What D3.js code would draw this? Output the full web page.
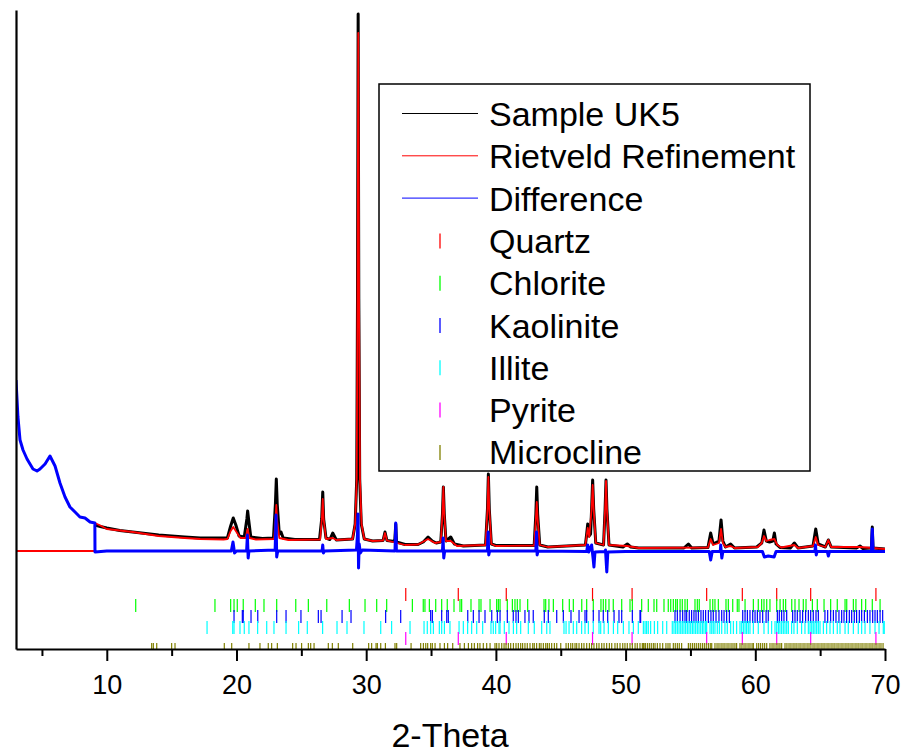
<!DOCTYPE html>
<html>
<head>
<meta charset="utf-8">
<script src="https://cdn.jsdelivr.net/npm/d3@7/dist/d3.min.js"></script>
<style>
    body { margin: 0; background: #fff; }
    svg { font-family: "Liberation Sans", Arial, sans-serif; display: block; }
</style>
</head>
<body>
<div id="chart"></div>
<script>
// measured pattern, [2-theta, counts]
const observed = [
    [9.09,1240],[9.5,1225],[10,1210],[11,1185],[12,1170],[13,1155],[14,1140],[15,1130],[16,1120],[17.2,1110],[18.5,1110],
    [19.3,1110],[19.55,1230],[19.75,1310],[19.95,1240],[20.2,1130],[20.6,1120],[20.8,1300],[20.86,1380],[20.93,1300],[21.1,1120],
    [22,1105],[22.85,1110],[23.0,1450],[23.07,1700],[23.14,1450],[23.3,1150],[23.43,1170],[23.6,1110],[24.5,1095],
    [26.4,1095],[26.57,1300],[26.65,1570],[26.72,1300],[26.9,1110],[27.2,1095],[27.42,1160],[27.7,1090],
    [28.95,1100],[29.15,1250],[29.27,1700],[29.33,3500],[29.38,6350],[29.43,3500],[29.5,1700],[29.62,1250],[29.85,1100],
    [30.5,1080],[31.3,1085],[31.45,1170],[31.6,1085],[32.2,1075],[32.28,1250],[32.34,1070],[33,1045],[34,1045],
    [34.4,1070],[34.77,1120],[35.1,1080],[35.4,1060],[35.75,1070],[35.88,1350],[35.95,1620],[36.02,1350],[36.15,1080],
    [36.52,1120],[36.8,1050],[37.5,1030],[39.2,1040],[39.35,1400],[39.42,1750],[39.49,1400],[39.65,1050],[40,1035],
    [42.95,1035],[43.08,1350],[43.15,1620],[43.22,1350],[43.38,1040],[44,1020],[46.9,1040],[47.0,1150],[47.08,1250],
    [47.18,1130],[47.3,1150],[47.38,1400],[47.46,1690],[47.54,1400],[47.7,1060],[48.3,1040],[48.42,1400],[48.49,1690],
    [48.56,1400],[48.72,1040],[49.8,1020],[50.13,1050],[50.4,1020],[51,1010],[54.5,1010],[54.84,1050],[55.1,1010],
    [56.35,1015],[56.56,1160],[56.75,1050],[57.2,1080],[57.36,1290],[57.5,1080],[57.7,1020],[58.1,1050],[58.4,1010],
    [60.11,1020],[60.5,1060],[60.67,1190],[60.85,1080],[61.1,1070],[61.35,1080],[61.47,1160],[61.6,1050],[61.9,1015],
    [62.7,1010],[63.01,1060],[63.3,1010],[64.45,1030],[64.66,1200],[64.85,1050],[65.4,1020],[65.63,1090],[65.85,1020],
    [67.8,1010],[68.07,1030],[68.3,1005],[68.95,1010],[69.02,1220],[69.08,1010],[70,1000]
];

const refined = [
    [9.09,1260],[9.5,1235],[10,1200],[11,1185],[12,1170],[13,1150],[14,1130],[15,1120],[16,1110],[17.2,1100],[19.0,1095],
    [19.3,1100],[19.55,1180],[19.75,1220],[20.0,1170],[20.3,1110],[20.7,1110],[20.86,1200],[21.0,1110],[21.5,1095],
    [22.9,1100],[23.0,1280],[23.07,1440],[23.14,1280],[23.3,1110],[24,1090],[26.45,1095],[26.58,1300],[26.65,1500],
    [26.72,1300],[26.9,1100],[27.42,1110],[27.7,1090],[28.95,1100],[29.15,1250],[29.27,1700],[29.33,3500],[29.39,6160],
    [29.45,3500],[29.52,1700],[29.64,1250],[29.85,1100],[30.5,1080],[31.3,1085],[31.45,1160],[31.6,1085],[33,1040],
    [34,1045],[34.77,1100],[35.3,1060],[35.75,1070],[35.88,1350],[35.95,1620],[36.02,1350],[36.15,1080],[36.52,1080],
    [37,1030],[39.2,1040],[39.35,1400],[39.42,1720],[39.49,1400],[39.65,1050],[40,1030],[42.95,1035],[43.08,1300],
    [43.15,1470],[43.22,1300],[43.38,1040],[44,1020],[46.9,1040],[47.08,1210],[47.2,1120],[47.38,1400],[47.46,1640],
    [47.54,1400],[47.7,1060],[48.3,1040],[48.42,1400],[48.49,1680],[48.56,1400],[48.72,1040],[50.13,1030],[51,1010],
    [56.35,1015],[56.56,1100],[56.75,1040],[57.2,1060],[57.36,1200],[57.5,1060],[57.7,1020],[58.1,1030],[58.4,1010],
    [60.2,1020],[60.5,1060],[60.67,1130],[60.85,1080],[61.1,1090],[61.47,1100],[61.7,1040],[62,1015],[63.01,1040],
    [63.3,1010],[64.45,1030],[64.66,1120],[64.85,1040],[65.4,1020],[65.63,1090],[65.85,1020],[68.07,1020],[70,1000]
];

// excluded low-angle range of the refinement
const refinedFlat = [[3,980],[9.09,980]];

const difference = [
    [3.0,2690],[3.15,2320],[3.31,2090],[3.54,1990],[3.85,1900],[4.31,1800],[4.62,1780],[4.85,1800],[5.24,1850],
    [5.62,1930],[6.01,1830],[6.39,1660],[6.78,1520],[7.16,1420],[7.55,1370],[7.93,1320],[8.32,1310],[8.71,1270],
    [9.08,1260],[9.09,970],[10,980],[19.6,980],[19.73,1070],[19.85,960],[20.0,980],[20.78,980],[20.84,1140],[20.9,910],
    [20.96,980],[22.98,990],[23.05,1340],[23.1,920],[23.18,980],[26.6,980],[26.65,1040],[26.7,960],[26.78,980],
    [29.25,990],[29.33,1150],[29.37,1350],[29.41,810],[29.46,1050],[29.55,960],[29.7,990],[32.22,980],[32.28,1260],
    [32.33,980],[35.88,980],[35.93,1110],[35.98,910],[36.05,980],[39.35,980],[39.4,1170],[39.45,940],[39.52,980],
    [43.08,980],[43.13,1170],[43.18,940],[43.25,980],[47.0,975],[47.08,1040],[47.16,970],[47.38,1040],[47.5,900],
    [47.56,820],[47.64,970],[48.4,975],[48.45,990],[48.55,770],[48.63,970],[50,975],[56.45,975],[56.56,890],[56.68,975],
    [57.3,975],[57.33,1040],[57.42,910],[57.5,975],[60.55,975],[60.7,920],[61.0,930],[61.45,920],[61.6,975],[64.6,975],
    [64.64,1040],[64.7,940],[64.76,975],[65.55,975],[65.63,930],[65.72,975],[68.95,975],[69.02,1200],[69.08,975],[70,975]
];

// reflection positions (2-theta) for each phase
const quartzPos = [33.05,37.1,40.8,47.45,50.5,56.25,59.0,61.65,64.27,69.3];
const pyritePos = [33.05,37.1,40.8,47.45,50.5,56.25,59.0,61.65,64.27,69.3];

const chloritePos = [
    12.23,18.34,19.55,19.81,20.06,20.52,21.45,22.12,23.1,24.57,25.54,26.96,28.7,29.91,30.81,31.58,
    33.56,34.4,34.53,34.87,35.36,35.82,36.25,36.77,37.23,37.36,38.08,38.7,38.85,39.55,40.06,40.19,40.32,40.88,
    41.27,41.47,41.65,41.86,42.45,43.71,43.84,44.09,44.43,45.15,45.66,45.97,46.62,47.0,47.51,48.1,48.28,48.47,
    48.72,49.05,49.7,50.34,50.52,51.24,51.75,52.19,52.4,52.96,53.29,53.48,53.68,53.86,53.99,54.2,54.37,54.58,
    54.76,55.35,55.53,55.68,56.51,56.72,56.89,57.15,57.74,57.92,58.26,58.61,58.74,59.21,59.85,60.23,60.49,60.67,
    60.88,61.13,61.65,61.91,62.16,62.34,62.81,63.06,63.37,63.7,63.91,64.4,64.78,65.3,65.81,66.32,66.92,67.05,
    67.56,67.76,68.2,68.51,69.02,69.62
];

const kaolinitePos = [
    19.81,20.45,20.52,21.12,21.64,23.1,23.82,24.97,26.31,26.52,28.14,28.83,31.5,32.66,34.97,35.1,35.82,36.21,
    36.33,37.83,38.26,38.7,39.16,39.68,40.11,40.32,40.88,41.34,41.55,41.73,42.24,42.55,42.88,43.73,44.04,44.69,
    45.2,45.79,46.41,46.87,47.0,47.51,47.95,48.28,48.62,49.11,49.49,49.7,50.52,51.11,51.16,53.81,53.99,54.2,54.4,
    54.58,54.71,54.91,55.09,55.27,55.43,55.61,55.81,55.99,56.17,56.38,56.58,56.76,56.97,57.2,57.41,57.59,57.79,58.0,
    59.03,59.21,59.39,59.59,59.8,59.98,60.16,60.36,60.57,60.83,61.0,61.7,61.85,62.03,62.21,62.42,62.88,63.06,
    63.24,63.45,63.65,63.88,64.09,64.27,64.47,64.68,64.86,65.37,65.58,65.81,66.02,66.22,66.45,66.66,66.84,67.04,
    67.25,67.43,67.63,67.81,68.02,68.2,68.41,68.64,68.84,69.05,69.23,69.41,69.62,69.82
];

const illitePos = [
    17.73,19.71,19.81,20.27,20.6,20.96,21.63,22.33,22.89,23.82,24.79,25.46,26.64,27.75,28.52,29.83,31.12,31.96,
    33.38,34.46,34.71,34.97,35.18,35.64,35.82,36.03,36.46,37.16,37.49,37.82,38.13,38.52,38.98,39.62,39.8,39.98,
    40.24,40.32,40.65,41.01,41.35,41.6,41.91,42.5,42.96,43.53,43.92,44.17,45.25,45.41,45.64,45.97,46.23,46.61,
    46.87,47.13,47.51,47.95,48.08,48.34,48.67,49.06,49.39,49.83,50.26,50.6,50.98,51.5,51.75,51.37,51.62,51.93,
    52.22,52.47,52.86,53.17,53.6,53.73,53.86,53.99,54.12,54.25,54.37,54.5,54.63,54.76,54.89,55.02,55.15,55.27,
    55.4,55.53,55.66,55.79,55.92,56.04,56.17,56.25,56.51,56.64,56.76,56.89,57.07,57.23,57.41,57.66,57.84,58.1,
    58.31,58.56,58.82,58.95,59.08,59.21,59.33,59.46,59.59,59.85,60.23,60.67,61.0,61.26,61.52,61.65,61.78,61.9,
    62.03,62.16,62.29,62.42,62.55,62.8,62.98,63.24,63.57,63.83,64.09,64.22,64.35,64.47,64.6,64.73,64.86,64.99,
    65.25,65.5,65.76,66.02,66.32,66.53,66.92,67.17,67.56,67.94,68.2,68.46,68.84,69.23,69.54,69.87,69.98
];

const microclinePos = [
    13.46,13.59,13.85,15.0,15.26,19.06,19.63,20.96,21.81,22.45,22.71,23.15,24.33,24.59,25.02,25.54,25.72,25.98,
    27.08,27.39,27.85,28.96,30.19,30.42,30.76,30.86,31.12,31.48,32.22,32.35,33.46,34.2,34.41,34.59,34.74,34.97,
    35.1,35.31,35.69,36.03,36.28,36.67,37.23,37.57,37.88,38.13,38.34,38.59,38.77,39.03,39.29,39.55,39.93,40.06,
    40.24,40.45,40.63,40.78,40.96,41.14,41.35,41.55,41.73,41.91,42.06,42.24,42.42,42.63,42.84,42.96,43.14,43.35,
    43.48,43.66,43.84,43.97,44.12,44.3,44.51,44.69,45.0,45.41,45.59,45.77,45.92,46.1,46.23,46.41,46.61,46.79,47.0,
    47.21,47.38,47.56,47.77,47.95,48.16,48.34,48.54,48.75,48.93,49.18,49.36,49.57,49.78,49.95,50.13,50.34,50.52,
    50.73,50.9,51.11,51.29,51.5,51.68,51.37,51.52,51.83,51.98,52.14,52.27,52.45,52.65,52.86,53.11,53.27,53.42,
    53.68,53.83,53.99,54.14,54.32,54.84,54.99,55.15,55.3,55.45,55.61,55.76,55.92,56.07,56.22,56.38,56.53,56.64,
    56.89,57.05,57.2,57.36,57.51,57.66,57.82,57.97,58.13,58.28,58.43,58.56,58.82,58.97,59.13,59.28,59.44,59.59,
    59.75,59.85,60.11,60.26,60.41,60.57,60.72,60.88,61.13,61.29,61.44,61.6,61.75,61.9,62.03,62.29,62.44,62.6,
    62.75,62.91,63.06,63.21,63.37,63.52,63.68,63.83,63.99,64.14,64.29,64.45,64.6,64.76,64.91,65.07,65.22,65.37,
    65.53,65.68,65.84,65.99,66.14,66.3,66.45,66.61,66.76,66.92,67.07,67.22,67.38,67.53,67.69,67.84,67.99,68.15,
    68.3,68.46,68.61,68.77,68.92,69.07,69.23,69.38,69.54,69.69,69.85
];

const seriesNames = ["Sample UK5", "Rietveld Refinement", "Difference"];
const phaseNames = ["Quartz", "Chlorite", "Kaolinite", "Illite", "Pyrite", "Microcline"];
const xTickLabels = [10, 20, 30, 40, 50, 60, 70];
const xMinorTicks = [5, 15, 25, 35, 45, 55, 65];

(function () {
    "use strict";

    const width = 906;
    const height = 755;

    const lineColors = ["#000000", "#ff0000", "#0000ff"];
    const phaseColors = ["#ff0000", "#00ff00", "#0000ff", "#00ffff", "#ff00ff", "#808000"];
    const phasePositions = [quartzPos, chloritePos, kaolinitePos, illitePos, pyritePos, microclinePos];

    let x = d3.scaleLinear().domain([3, 70]).range([16, 885]);
    let y = d3.scaleLinear().domain([0, 6390]).range([649, 10]);

    let svg = d3.select("#chart").append("svg").attr("width", width).attr("height", height);

    svg.append("defs")
        .append("clipPath")
        .attr("id", "plotClip")
        .append("rect")
        .attr("x", 16)
        .attr("y", 0)
        .attr("width", 869)
        .attr("height", 649);

    let plot = svg.append("g").attr("clip-path", "url(#plotClip)");

    let line = d3
        .line()
        .x((d) => x(d[0]))
        .y((d) => y(d[1]));

    plot.append("path")
        .datum(observed)
        .attr("d", line)
        .attr("fill", "none")
        .attr("stroke", lineColors[0])
        .attr("stroke-width", 3)
        .attr("stroke-linejoin", "round");

    [refinedFlat, refined].forEach((d) => {
        plot.append("path")
            .datum(d)
            .attr("d", line)
            .attr("fill", "none")
            .attr("stroke", lineColors[1])
            .attr("stroke-width", 1.8)
            .attr("stroke-linejoin", "round");
    });

    plot.append("path")
        .datum(difference)
        .attr("d", line)
        .attr("fill", "none")
        .attr("stroke", lineColors[2])
        .attr("stroke-width", 3)
        .attr("stroke-linejoin", "round");

    // phase reflection markers, one row per phase
    let rowTop = d3.scaleLinear().domain([0, 1]).range([588, 599]);
    phasePositions.forEach((positions, i) => {
        plot.append("g")
            .selectAll("line")
            .data(positions)
            .enter()
            .append("line")
            .attr("x1", (d) => x(d))
            .attr("x2", (d) => x(d))
            .attr("y1", rowTop(i))
            .attr("y2", rowTop(i) + 13)
            .attr("stroke", phaseColors[i])
            .attr("stroke-width", 1.2);
    });

    // axes
    let xAxis = d3.axisBottom(x).tickValues(xTickLabels).tickSize(12).tickSizeOuter(0).tickPadding(14);
    let gx = svg.append("g").attr("transform", "translate(0,649)").call(xAxis);
    gx.select(".domain").attr("stroke-width", 2.2);
    gx.selectAll(".tick line").attr("stroke-width", 2);
    gx.selectAll(".tick text")
        .attr("font-size", 27)
        .attr("font-family", "Liberation Sans, Arial, sans-serif")
        .attr("fill", "#000");

    let gxMinor = svg
        .append("g")
        .attr("transform", "translate(0,649)")
        .call(d3.axisBottom(x).tickValues(xMinorTicks).tickSize(7).tickFormat(""));
    gxMinor.select(".domain").remove();
    gxMinor.selectAll(".tick line").attr("stroke-width", 2);

    let gy = svg
        .append("g")
        .attr("transform", "translate(16,0)")
        .call(d3.axisLeft(y).tickValues([]).tickSizeOuter(0));
    gy.select(".domain").attr("stroke-width", 2.2);

    svg.append("text")
        .attr("x", 450)
        .attr("y", 747)
        .attr("text-anchor", "middle")
        .attr("font-size", 34)
        .text("2-Theta");

    // legend
    let legend = svg.append("g");
    legend.append("rect")
        .attr("x", 379)
        .attr("y", 84)
        .attr("width", 431)
        .attr("height", 387)
        .attr("fill", "#fff")
        .attr("stroke", "#000")
        .attr("stroke-width", 1.5);

    let items = seriesNames.concat(phaseNames);
    let rowY = (i) => 126 + i * 42.3;

    legend.selectAll("text")
        .data(items)
        .enter()
        .append("text")
        .attr("x", 489)
        .attr("y", (d, i) => rowY(i))
        .attr("font-size", 34)
        .text((d) => d);

    legend.selectAll(".legend-line")
        .data(seriesNames)
        .enter()
        .append("line")
        .attr("class", "legend-line")
        .attr("x1", 402)
        .attr("x2", 478)
        .attr("y1", (d, i) => rowY(i) - 12.5)
        .attr("y2", (d, i) => rowY(i) - 12.5)
        .attr("stroke", (d, i) => lineColors[i])
        .attr("stroke-width", 1);

    legend.selectAll(".legend-tick")
        .data(phaseNames)
        .enter()
        .append("line")
        .attr("class", "legend-tick")
        .attr("x1", 440)
        .attr("x2", 440)
        .attr("y1", (d, i) => rowY(i + 3) - 19.5)
        .attr("y2", (d, i) => rowY(i + 3) - 4.5)
        .attr("stroke", (d, i) => phaseColors[i])
        .attr("stroke-width", 1.3);
})();
</script>
</body>
</html>
